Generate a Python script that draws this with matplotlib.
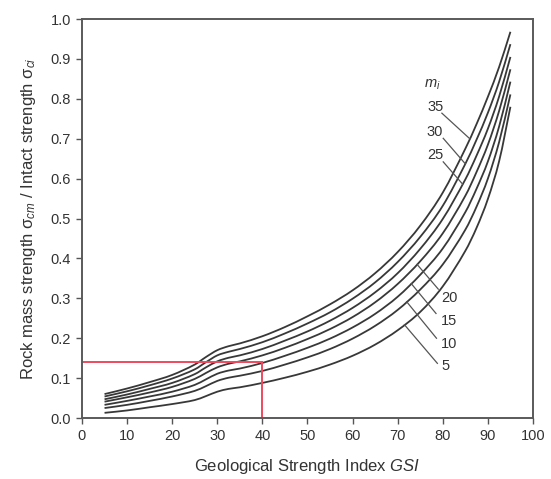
import numpy as np
import matplotlib
matplotlib.use('Agg')
import matplotlib.pyplot as plt
from matplotlib.path import Path
from matplotlib.patches import PathPatch

plt.rcParams['font.family'] = ['Liberation Sans', 'DejaVu Sans']
plt.rcParams['mathtext.fontset'] = 'custom'
plt.rcParams['mathtext.rm'] = 'Liberation Sans'
plt.rcParams['mathtext.it'] = 'Liberation Sans:italic'

# values
gsi = [5, 10, 15, 20, 25, 27.5, 30, 32.5, 35, 40, 45, 50, 55, 60, 65, 70, 75, 80,
       85, 87.5, 90, 92.5, 95]

ratio_mi5 = [0.013, 0.019, 0.027, 0.035, 0.045, 0.055, 0.066, 0.073, 0.077, 0.088, 0.101,
             0.116, 0.134, 0.156, 0.184, 0.220, 0.266, 0.330, 0.419, 0.477, 0.549, 0.644, 0.780]
ratio_mi10 = [0.025, 0.033, 0.043, 0.054, 0.068, 0.080, 0.093, 0.101, 0.106, 0.118, 0.134,
              0.152, 0.173, 0.199, 0.231, 0.271, 0.322, 0.385, 0.472, 0.530, 0.600, 0.692, 0.811]
ratio_mi15 = [0.033, 0.043, 0.054, 0.066, 0.083, 0.097, 0.111, 0.119, 0.124, 0.138, 0.156,
              0.176, 0.199, 0.227, 0.261, 0.304, 0.359, 0.425, 0.516, 0.575, 0.643, 0.731, 0.843]
ratio_mi20 = [0.041, 0.052, 0.064, 0.078, 0.098, 0.113, 0.127, 0.136, 0.142, 0.157, 0.176,
              0.198, 0.223, 0.253, 0.290, 0.336, 0.393, 0.463, 0.557, 0.617, 0.685, 0.770, 0.874]
ratio_mi25 = [0.047, 0.059, 0.073, 0.088, 0.110, 0.127, 0.142, 0.151, 0.157, 0.173, 0.194,
              0.217, 0.244, 0.276, 0.315, 0.363, 0.424, 0.499, 0.598, 0.658, 0.725, 0.806, 0.905]
ratio_mi30 = [0.054, 0.067, 0.082, 0.099, 0.122, 0.140, 0.157, 0.166, 0.173, 0.190, 0.212,
              0.237, 0.265, 0.299, 0.340, 0.391, 0.454, 0.532, 0.637, 0.698, 0.765, 0.843, 0.937]
ratio_mi35 = [0.060, 0.074, 0.090, 0.108, 0.134, 0.153, 0.170, 0.180, 0.187, 0.205, 0.228,
              0.255, 0.285, 0.320, 0.363, 0.416, 0.482, 0.565, 0.675, 0.737, 0.805, 0.880, 0.968]

curves = {5: ratio_mi5, 10: ratio_mi10, 15: ratio_mi15, 20: ratio_mi20,
          25: ratio_mi25, 30: ratio_mi30, 35: ratio_mi35}

# example reading: GSI 40 -> ratio 0.14
example_gsi = 40
example_ratio = 0.14

line_col = '#383838'
text_col = '#333333'


def smooth_path(xs, ys):
    # cubic Hermite through the read points, drawn as Bezier segments
    x = np.asarray(xs, float)
    y = np.asarray(ys, float)
    n = len(x)
    m = np.empty(n)
    m[0] = (y[1] - y[0]) / (x[1] - x[0])
    m[-1] = (y[-1] - y[-2]) / (x[-1] - x[-2])
    m[1:-1] = (y[2:] - y[:-2]) / (x[2:] - x[:-2])
    verts = [(x[0], y[0])]
    codes = [Path.MOVETO]
    for i in range(n - 1):
        h = (x[i + 1] - x[i]) / 3.0
        verts += [(x[i] + h, y[i] + m[i] * h),
                  (x[i + 1] - h, y[i + 1] - m[i + 1] * h),
                  (x[i + 1], y[i + 1])]
        codes += [Path.CURVE4] * 3
    return Path(verts, codes)


fig = plt.figure(figsize=(5.51, 4.79), dpi=100)
ax = fig.add_axes([0.1488, 0.1273, 0.8185, 0.833])

for mi, vals in curves.items():
    ax.add_patch(PathPatch(smooth_path(gsi, vals), facecolor='none',
                           edgecolor=line_col, lw=1.3))

# red reading lines
ax.plot([0, example_gsi], [example_ratio, example_ratio], color='#ee4a5e', lw=1.4)
ax.plot([example_gsi, example_gsi], [example_ratio, 0], color='#ee4a5e', lw=1.4, clip_on=False)

fs_lab = 10.5

# labels with leader lines (upper group)
ax.text(77.6, 0.835, r'$m_i$', fontsize=fs_lab, color=text_col, ha='center', va='center')
upper = [(35, 0.780, (79.8, 0.764), 86.0),
         (30, 0.717, (80.1, 0.701), 85.0),
         (25, 0.660, (80.1, 0.642), 84.4)]
for mi, ty, start, end_x in upper:
    ax.text(78.3, ty, str(mi), fontsize=fs_lab, color=text_col, ha='center', va='center')
    end_y = np.interp(end_x, gsi, curves[mi])
    ax.plot([start[0], end_x], [start[1], end_y], color='#555555', lw=0.9)

# lower group
lower = [(20, 0.301, (79.0, 0.323), 74.3),
         (15, 0.244, (78.5, 0.262), 73.0),
         (10, 0.185, (78.6, 0.200), 72.0),
         (5, 0.131, (78.8, 0.137), 71.5)]
for mi, ty, start, end_x in lower:
    ax.text(79.6, ty, str(mi), fontsize=fs_lab, color=text_col, ha='left', va='center')
    end_y = np.interp(end_x, gsi, curves[mi])
    ax.plot([start[0], end_x], [start[1], end_y], color='#555555', lw=0.9)

ax.set_xlim(0, 100)
ax.set_ylim(0, 1.0)
ax.set_xticks(np.arange(0, 101, 10))
ax.set_yticks(np.arange(0, 1.01, 0.1))
ax.set_yticklabels([f'{v:.1f}' for v in np.arange(0, 1.01, 0.1)])
ax.tick_params(direction='out', length=4, width=1.0, colors='#555555',
               labelcolor=text_col, labelsize=10.5, pad=4)

for sp in ax.spines.values():
    sp.set_color('#5a5a5a')
    sp.set_linewidth(1.4)

ax.set_xlabel(r'Geological Strength Index $GSI$', fontsize=12, color=text_col, labelpad=10)
ax.set_ylabel(r'Rock mass strength $\mathrm{σ}_{cm}$ / Intact strength $\mathrm{σ}_{ci}$',
              fontsize=12, color=text_col, labelpad=9)

fig.savefig('out.png', dpi=100)
